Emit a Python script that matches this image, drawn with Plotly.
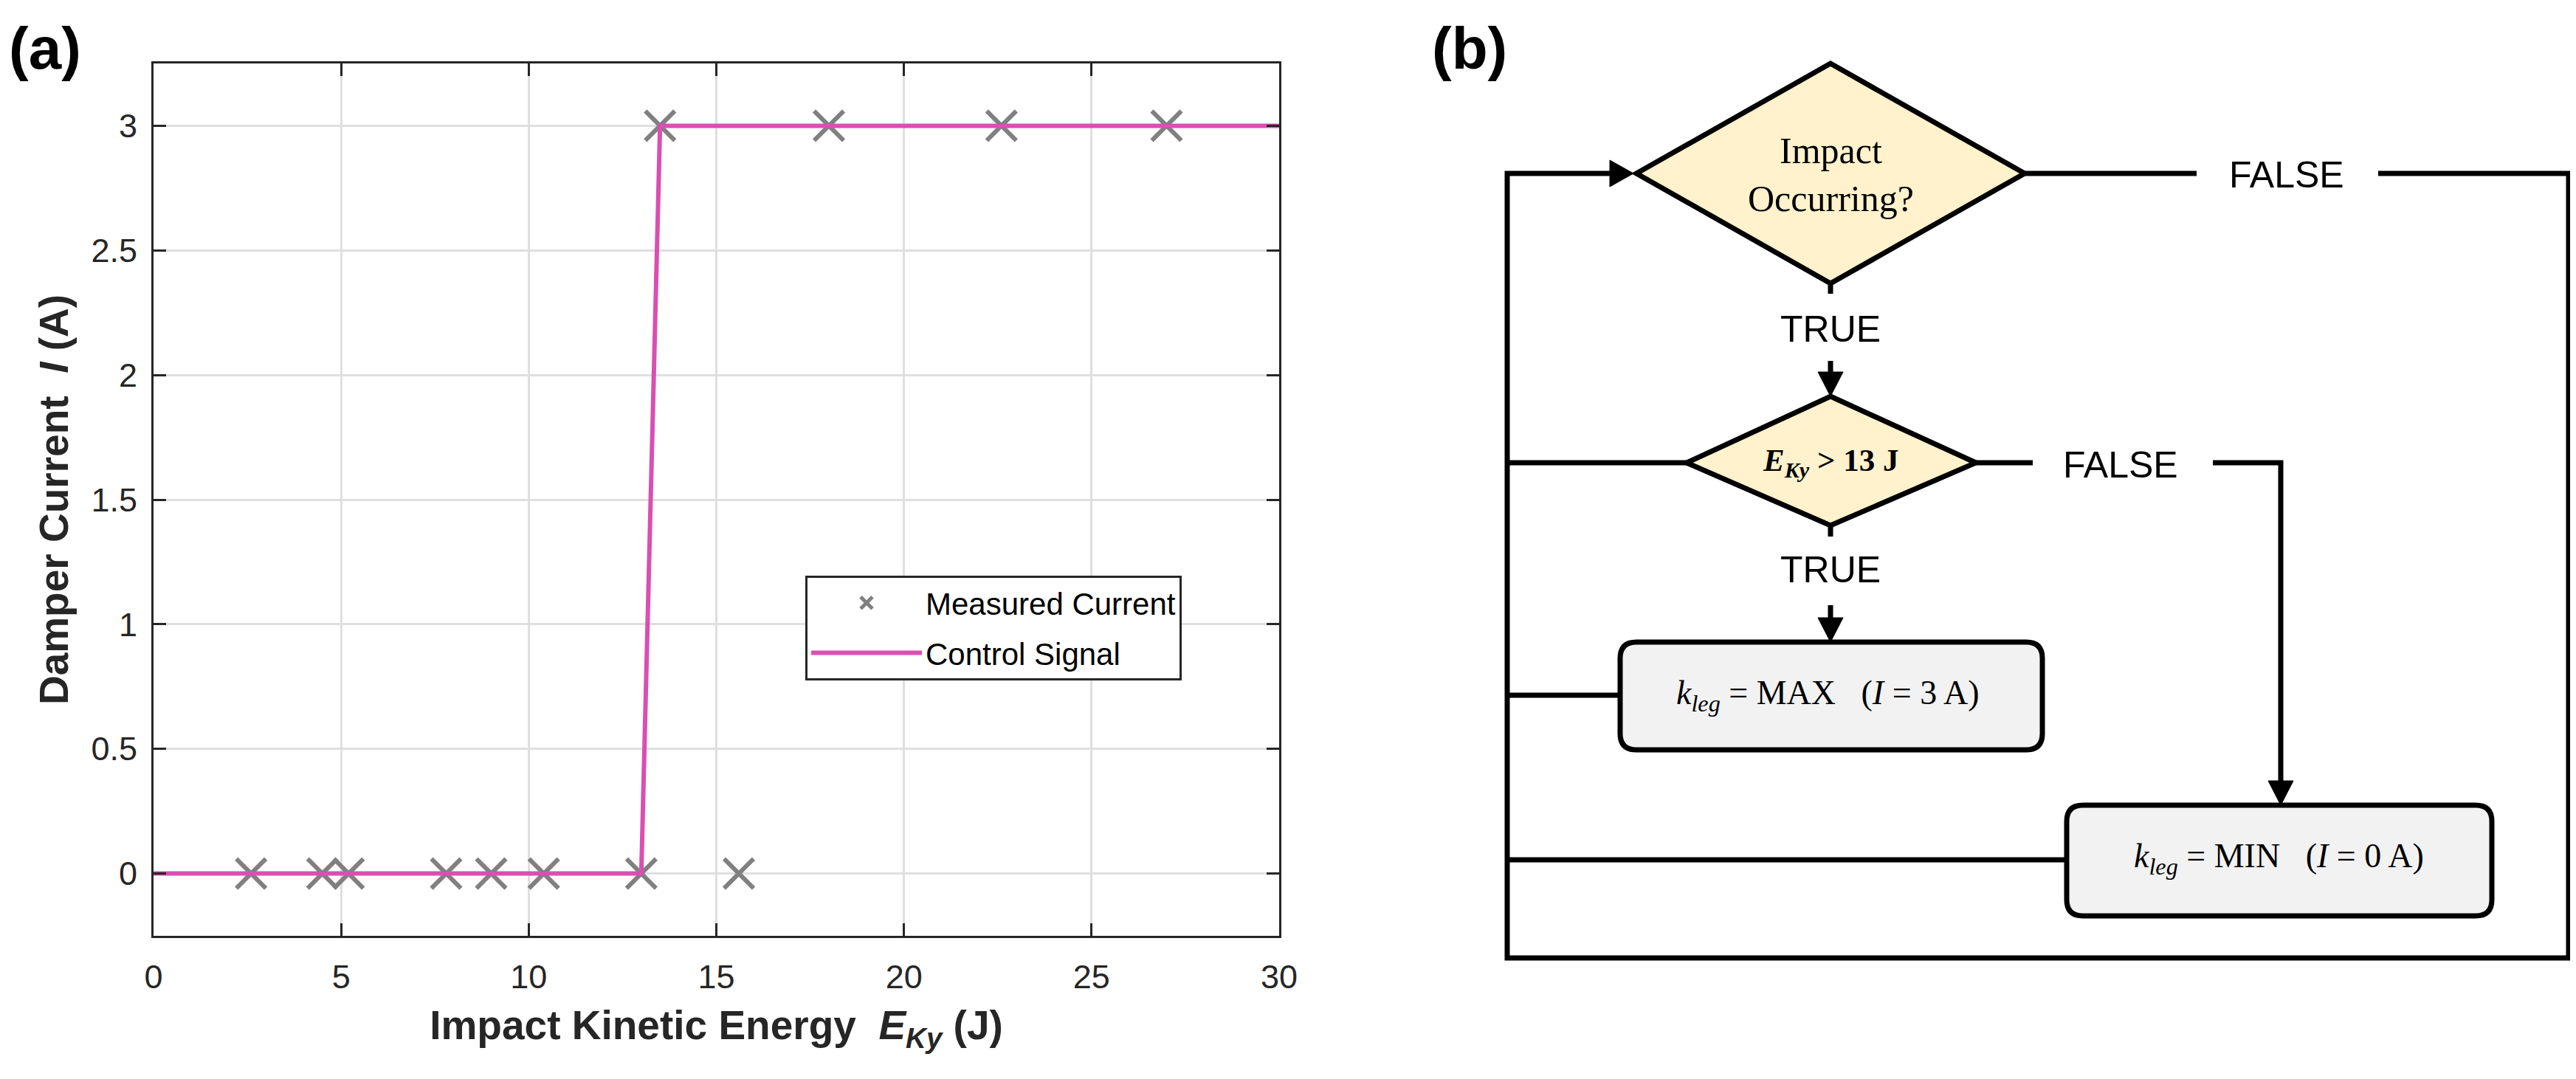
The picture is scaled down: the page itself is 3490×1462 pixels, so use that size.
import plotly.graph_objects as go

W, H = 3490, 1462
OFF = 8                      # default page margin of the HTML body
FW, FH = W - 2 * OFF, H - 2 * OFF

# ---------------- data (panel a) ----------------
measured_energy = [2.6, 4.5, 5.2, 7.8, 9.0, 10.4, 13.0, 15.6, 13.5, 18.0, 22.6, 27.0]
measured_current = [0, 0, 0, 0, 0, 0, 0, 0, 3, 3, 3, 3]
control_energy = [0, 13.0, 13.5, 30]
control_current = [0, 0, 3, 3]

x_tick_vals = [0, 5, 10, 15, 20, 25, 30]
x_tick_labels = ["0", "5", "10", "15", "20", "25", "30"]
y_tick_vals = [0, 0.5, 1, 1.5, 2, 2.5, 3]
y_tick_labels = ["0", "0.5", "1", "1.5", "2", "2.5", "3"]

series_names = ["Measured Current", "Control Signal"]

# ---------------- flowchart labels (panel b) ----------------
decision_labels = ["Impact<br>Occurring?", "<b><i>E</i><sub><i>Ky</i></sub> &gt; 13 J</b>"]
action_labels = ["<i>k</i><sub><i>leg</i></sub> = MAX\u00a0\u00a0\u00a0(<i>I</i> = 3 A)",
                 "<i>k</i><sub><i>leg</i></sub> = MIN\u00a0\u00a0\u00a0(<i>I</i> = 0 A)"]
branch_labels = ["TRUE", "FALSE"]
panel_labels = ["(a)", "(b)"]

SANS = "Liberation Sans, Arial, Helvetica, sans-serif"
SERIF = "Liberation Serif, Times New Roman, serif"
DARK = "#262626"


# pixel (screen) -> paper helpers
def fx(x):
    return (x - OFF) / FW


def fy(y):
    return 1 - (y - OFF) / FH


fig = go.Figure()
fig.add_trace(go.Scatter(
    x=measured_energy, y=measured_current, mode="markers", name=series_names[0],
    legendgroup="m",
    marker=dict(symbol="x-thin", size=40, color="#808080",
                line=dict(width=6, color="#808080"))))
fig.add_trace(go.Scatter(
    x=control_energy, y=control_current, mode="lines", name=series_names[1],
    legendgroup="c",
    line=dict(color="#D94FB2", width=6)))

axis_common = dict(
    showline=True, linecolor=DARK, linewidth=3, mirror="ticks",
    ticks="inside", ticklen=17, tickwidth=3, tickcolor=DARK,
    showgrid=True, gridcolor="#DFDFDF", gridwidth=3, zeroline=False,
    tickfont=dict(family=SANS, size=45, color=DARK), automargin=False,
    tickmode="array")

fig.update_layout(
    width=FW, height=FH,
    margin=dict(l=0, r=0, t=0, b=0, pad=0),
    paper_bgcolor="white", plot_bgcolor="rgba(0,0,0,0)",
    font=dict(family=SANS, color=DARK),
    xaxis=dict(axis_common, domain=[fx(208), fx(1733)], range=[0, 30],
               tickvals=x_tick_vals, ticktext=x_tick_labels,
               ticklabelstandoff=14,
               title=dict(text="<b>Impact Kinetic Energy\u00a0\u00a0<i>E</i><sub><i>Ky</i></sub> (J)</b>",
                          font=dict(family=SANS, size=55, color=DARK), standoff=22)),
    yaxis=dict(axis_common, domain=[fy(1268), fy(86)], range=[-0.25, 3.25],
               tickvals=y_tick_vals, ticktext=y_tick_labels,
               ticklabelstandoff=10,
               title=dict(text="<b>Damper Current\u00a0\u00a0<i>I</i> (A)</b>",
                          font=dict(family=SANS, size=55, color=DARK), standoff=14)),
    showlegend=True,
    legend=dict(x=fx(1091), y=fy(780), xanchor="left", yanchor="top",
                bgcolor="white", bordercolor=DARK, borderwidth=3,
                font=dict(family=SANS, size=42, color="black"),
                itemwidth=150, itemsizing="trace", tracegroupgap=10,
                entrywidth=370, entrywidthmode="pixels"),
)


def path(points, close=False):
    s = "M " + " L ".join(f"{fx(x):.5f},{fy(y):.5f}" for x, y in points)
    return s + (" Z" if close else "")


def rounded_rect(x0, y0, x1, y1, r):
    p = lambda x, y: f"{fx(x):.5f},{fy(y):.5f}"
    return (f"M {p(x0 + r, y0)} L {p(x1 - r, y0)} Q {p(x1, y0)} {p(x1, y0 + r)} "
            f"L {p(x1, y1 - r)} Q {p(x1, y1)} {p(x1 - r, y1)} "
            f"L {p(x0 + r, y1)} Q {p(x0, y1)} {p(x0, y1 - r)} "
            f"L {p(x0, y0 + r)} Q {p(x0, y0)} {p(x0 + r, y0)} Z")


LW = 7
shapes = []


def add_line(points):
    shapes.append(dict(type="path", xref="paper", yref="paper", path=path(points),
                       line=dict(color="black", width=LW), fillcolor="rgba(0,0,0,0)"))


def add_poly(points, fill, width=LW):
    shapes.append(dict(type="path", xref="paper", yref="paper", path=path(points, True),
                       line=dict(color="black", width=width), fillcolor=fill))


# outer loop
add_line([(3222, 235), (3480, 235), (3480, 1298), (2042, 1298), (2042, 235), (2190, 235)])
# connectors from the left loop line
add_line([(2042, 627), (2285, 627)])
add_line([(2042, 942), (2195, 942)])
add_line([(2042, 1165), (2800, 1165)])
# first diamond outputs
add_line([(2743, 235), (2976, 235)])
add_line([(2480, 384), (2480, 398)])
add_line([(2480, 489), (2480, 512)])
# second diamond outputs
add_line([(2677, 627), (2754, 627)])
add_line([(2998, 627), (3090, 627), (3090, 1064)])
add_line([(2480, 712), (2480, 727)])
add_line([(2480, 820), (2480, 845)])

# decision diamonds
add_poly([(2480, 86), (2743, 235), (2480, 384), (2217, 235)], "#FFF2CC")
add_poly([(2480, 537), (2677, 627), (2480, 712), (2285, 627)], "#FFF2CC")

# action boxes
for x0, y0, x1, y1 in [(2195, 870, 2767, 1016), (2800, 1091, 3376, 1241)]:
    shapes.append(dict(type="path", xref="paper", yref="paper",
                       path=rounded_rect(x0, y0, x1, y1, 22),
                       line=dict(color="black", width=LW), fillcolor="#F2F2F2"))

# arrow heads
add_poly([(2213, 235), (2181, 217), (2181, 253)], "black", 1)
add_poly([(2480, 537), (2463, 504), (2497, 504)], "black", 1)
add_poly([(2480, 870), (2463, 837), (2497, 837)], "black", 1)
add_poly([(3090, 1091), (3073, 1058), (3107, 1058)], "black", 1)

fig.update_layout(shapes=shapes)

annotations = []


def add_text(x, y, text, family, size, xanchor="center", color="black"):
    annotations.append(dict(x=fx(x), y=fy(y), xref="paper", yref="paper", text=text,
                            showarrow=False, xanchor=xanchor, yanchor="middle",
                            font=dict(family=family, size=size, color=color)))


add_text(10, 66, "<b>" + panel_labels[0] + "</b>", SANS, 80, xanchor="left")
add_text(1938, 66, "<b>" + panel_labels[1] + "</b>", SANS, 80, xanchor="left")
add_text(2480, 236, decision_labels[0], SERIF, 50)
add_text(2480, 627, decision_labels[1], SERIF, 43)
add_text(2476, 942, action_labels[0], SERIF, 46)
add_text(3087, 1163, action_labels[1], SERIF, 46)
add_text(2480, 446, branch_labels[0], SANS, 50)
add_text(2480, 772, branch_labels[0], SANS, 50)
add_text(3098, 237, branch_labels[1], SANS, 50)
add_text(2873, 630, branch_labels[1], SANS, 50)

fig.update_layout(annotations=annotations)

fig.write_html("out.html")
